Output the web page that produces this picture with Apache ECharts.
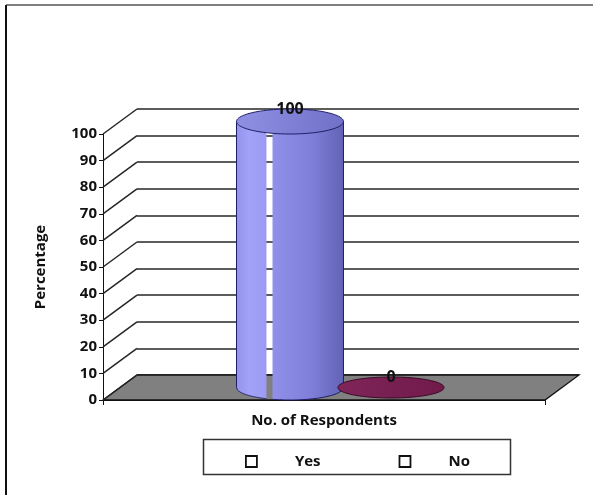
<!DOCTYPE html>
<html>
<head>
<meta charset="utf-8">
<script src="https://cdn.jsdelivr.net/npm/echarts@6/dist/echarts.min.js"></script>
<style>
  html, body { margin: 0; padding: 0; background: #ffffff; }
  #chart { width: 595px; height: 495px; }
</style>
</head>
<body>
<div id="chart"></div>
<script>
// ---- data ----
const categories = ['No. of Respondents'];
const seriesNames = ['Yes', 'No'];
const yesValues = [100];
const noValues = [0];
const yTicks = [0, 10, 20, 30, 40, 50, 60, 70, 80, 90, 100];

// ---- look ----
const FONT = '"Open Sans", Lato, sans-serif';
const DX = 34, DY = -25;          // depth of the 3D box (front -> back wall)
const GRID_LINE = '#262626';

const chart = echarts.init(document.getElementById('chart'), null, { renderer: 'canvas' });

// points along an ellipse from angle a0 to a1 (radians)
function ellipsePts(cx, cy, rx, ry, a0, a1, n) {
  const pts = [];
  for (let i = 0; i <= n; i++) {
    const a = a0 + (a1 - a0) * i / n;
    pts.push([cx + rx * Math.cos(a), cy + ry * Math.sin(a)]);
  }
  return pts;
}
// lower half of the ellipse between horizontal fractions u0 -> u1 (-1..1)
function lowerArc(cx, cy, rx, ry, u0, u1, n) {
  const pts = [];
  for (let i = 0; i <= n; i++) {
    const u = u0 + (u1 - u0) * i / n;
    pts.push([cx + u * rx, cy + ry * Math.sqrt(Math.max(0, 1 - u * u))]);
  }
  return pts;
}

// a cylinder standing at mid-depth of the box
function makeCylinder(opt) {
  return function (params, api) {
    const band = api.size([1, 0])[0];
    const v = api.value(1);
    const top = api.coord([api.value(0), v]);
    const base = api.coord([api.value(0), 0]);
    const cx = top[0] + opt.offset * band + DX / 2;
    const rx = opt.widthFrac * band / 2;
    const ry = opt.ry;
    const yTop = top[1] + DY / 2;
    const yBot = base[1] + DY / 2;
    const children = [];
    const grad = {
      type: 'linear', global: true, x: cx - rx, y: 0, x2: cx + rx, y2: 0,
      colorStops: opt.bodyStops
    };
    if (yBot - yTop > 0.5) {
      const pieces = opt.gap ? [[-1, opt.gap[0]], [opt.gap[1], 1]] : [[-1, 1]];
      pieces.forEach(function (pc) {
        const pts = [[cx + pc[0] * rx, yTop], [cx + pc[1] * rx, yTop]]
          .concat(lowerArc(cx, yBot, rx, ry, pc[1], pc[0], 30));
        children.push({ type: 'polygon', shape: { points: pts }, style: { fill: grad, stroke: null } });
        // outline: outer vertical edges and the bottom rim
        const rim = lowerArc(cx, yBot, rx, ry, pc[0], pc[1], 30);
        const outline = [];
        if (pc[0] === -1) outline.push([cx - rx, yTop]);
        outline.push.apply(outline, rim);
        if (pc[1] === 1) outline.push([cx + rx, yTop]);
        children.push({ type: 'polyline', shape: { points: outline },
          style: { stroke: opt.edge, lineWidth: 1, fill: null } });
      });
    }
    children.push({
      type: 'polygon',
      shape: { points: ellipsePts(cx, yTop, rx, ry, 0, Math.PI * 2, 90) },
      style: {
        fill: { type: 'linear', global: true, x: cx - rx, y: yTop - ry, x2: cx + rx, y2: yTop + ry,
          colorStops: opt.capStops },
        stroke: opt.edge, lineWidth: 1
      }
    });
    children.push({
      type: 'text',
      style: {
        text: String(v), x: cx, y: yTop - ry, align: 'center', verticalAlign: 'middle',
        fontFamily: FONT, fontWeight: 'bold', fontSize: 16, fill: '#111'
      }
    });
    return { type: 'group', children: children };
  };
}

const option = {
  backgroundColor: '#ffffff',
  animation: false,
  grid: [
    { left: 103, right: 50, top: 134, bottom: 95 },               // front plane
    { left: 103 + DX, right: 50 - DX, top: 134 + DY, bottom: 95 - DY } // back wall
  ],
  xAxis: [
    {
      type: 'category', gridIndex: 0, data: categories,
      axisLine: { show: true, lineStyle: { color: '#111', width: 1.2 } },
      axisTick: { show: true, length: 5, lineStyle: { color: '#111' } },
      axisLabel: { margin: 13, color: '#111', fontFamily: FONT, fontWeight: 'bold', fontSize: 15 }
    },
    { type: 'category', gridIndex: 1, data: categories, show: false }
  ],
  yAxis: [
    {
      type: 'value', gridIndex: 0, min: 0, max: 100, interval: 10,
      name: 'Percentage', nameLocation: 'middle', nameGap: 55, nameRotate: 90,
      nameTextStyle: { color: '#111', fontFamily: FONT, fontWeight: 'bold', fontSize: 15 },
      axisLine: { show: true, lineStyle: { color: '#111', width: 1 } },
      axisTick: { show: true, length: 4, lineStyle: { color: '#111' } },
      axisLabel: { margin: 6, color: '#111', fontFamily: FONT, fontWeight: 'bold', fontSize: 15 },
      splitLine: { show: false }
    },
    {
      type: 'value', gridIndex: 1, min: 0, max: 100, interval: 10,
      axisLine: { show: false }, axisTick: { show: false }, axisLabel: { show: false },
      splitLine: { show: true, lineStyle: { color: GRID_LINE, width: 1.5 } }
    }
  ],
  legend: {
    data: [
      { name: 'Yes', itemStyle: { color: '#ffffff', borderColor: '#111', borderWidth: 1.8 } },
      { name: 'No', itemStyle: { color: '#ffffff', borderColor: '#111', borderWidth: 1.8 } }
    ],
    icon: 'rect', left: 240, top: 449, itemWidth: 11, itemHeight: 11, itemGap: 78,
    textStyle: { color: '#111', fontFamily: FONT, fontWeight: 'bold', fontSize: 15, padding: [0, 0, 0, 33] }
  },
  graphic: [
    { type: 'line', shape: { x1: 6, y1: 5, x2: 593, y2: 5 }, style: { stroke: '#555', lineWidth: 1.5 } },
    { type: 'line', shape: { x1: 6, y1: 5, x2: 6, y2: 495 }, style: { stroke: '#111', lineWidth: 2 } },
    { type: 'rect', shape: { x: 203.5, y: 439.5, width: 307, height: 35 },
      style: { fill: null, stroke: '#333', lineWidth: 1.5 } }
  ],
  series: [
    {
      // floor of the box
      type: 'custom', name: 'floor', xAxisIndex: 0, yAxisIndex: 0, z: 1, silent: true,
      data: [[0, 0]],
      renderItem: function (params, api) {
        const cs = params.coordSys;
        const y0 = api.coord([0, 0])[1];
        return {
          type: 'polygon',
          shape: { points: [[cs.x, y0], [cs.x + cs.width, y0], [cs.x + cs.width + DX, y0 + DY], [cs.x + DX, y0 + DY]] },
          style: { fill: '#808080', stroke: '#111', lineWidth: 1.3 }
        };
      }
    },
    {
      // side-wall lines joining each front tick to the back wall
      type: 'custom', name: 'wall', xAxisIndex: 0, yAxisIndex: 0, z: 1, silent: true,
      data: yTicks.map(function (t) { return [0, t]; }),
      renderItem: function (params, api) {
        const cs = params.coordSys;
        const y = api.coord([0, api.value(1)])[1];
        return {
          type: 'line', shape: { x1: cs.x, y1: y, x2: cs.x + DX, y2: y + DY },
          style: { stroke: GRID_LINE, lineWidth: 1.5 }
        };
      }
    },
    {
      type: 'custom', name: seriesNames[0], xAxisIndex: 0, yAxisIndex: 0, z: 3,
      data: yesValues.map(function (v, i) { return [i, v]; }),
      itemStyle: { color: '#8a8ae6' },
      renderItem: makeCylinder({
        offset: -0.1154, widthFrac: 0.242, ry: 12.5, gap: [-0.44, -0.327],
        edge: '#1f1f66',
        bodyStops: [
          { offset: 0, color: '#9393ec' }, { offset: 0.12, color: '#a2a2f8' },
          { offset: 0.3, color: '#9a9af2' }, { offset: 0.34, color: '#9090ea' },
          { offset: 0.7, color: '#7f7fd9' }, { offset: 1, color: '#6262b6' }
        ],
        capStops: [{ offset: 0, color: '#9090e4' }, { offset: 1, color: '#7070c8' }]
      })
    },
    {
      type: 'custom', name: seriesNames[1], xAxisIndex: 0, yAxisIndex: 0, z: 3,
      data: noValues.map(function (v, i) { return [i, v]; }),
      itemStyle: { color: '#7b2052' },
      renderItem: makeCylinder({
        offset: 0.1131, widthFrac: 0.24, ry: 10.5,
        edge: '#3a0a24',
        bodyStops: [{ offset: 0, color: '#7b2052' }, { offset: 1, color: '#6a1846' }],
        capStops: [{ offset: 0, color: '#80255a' }, { offset: 1, color: '#701a4a' }]
      })
    }
  ]
};

chart.setOption(option);
</script>
</body>
</html>
